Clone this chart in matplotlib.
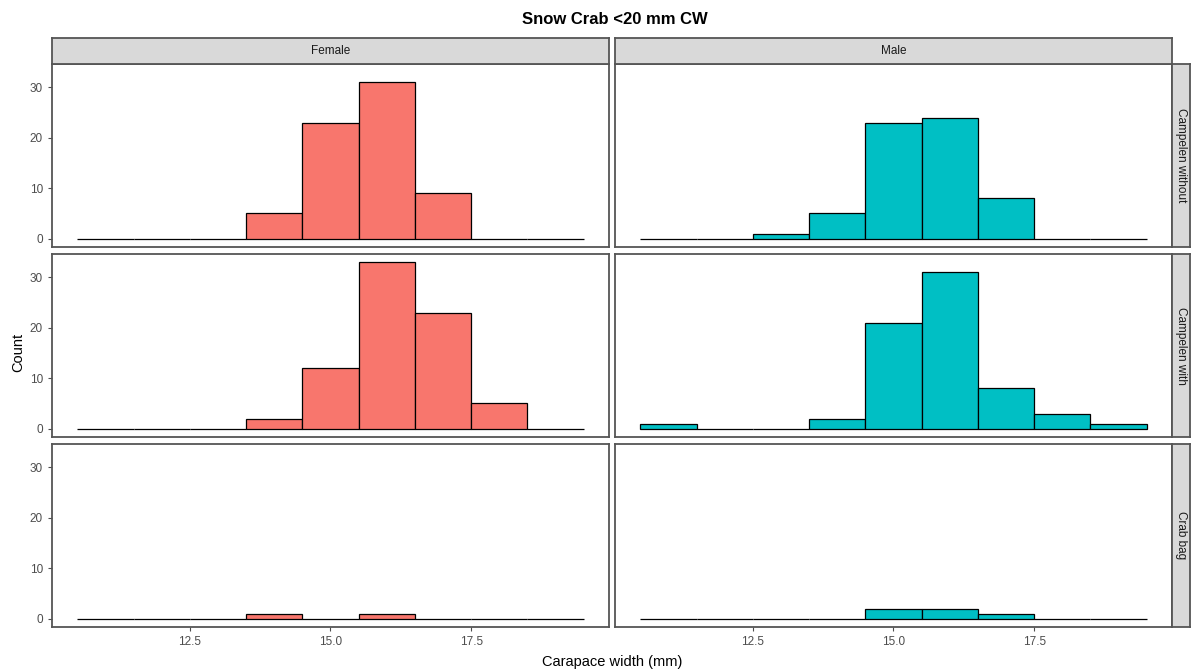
import matplotlib
matplotlib.use("Agg")
import matplotlib.pyplot as plt

plt.rcParams['font.family'] = ['Liberation Sans', 'DejaVu Sans']

# Data
bin_centers = [11, 12, 13, 14, 15, 16, 17, 18, 19]
bin_width = 1.0
sexes = ["Female", "Male"]
gears = ["Campelen without", "Campelen with", "Crab bag"]
female_campelen_without = [0, 0, 0, 5, 23, 31, 9, 0, 0]
male_campelen_without = [0, 0, 1, 5, 23, 24, 8, 0, 0]
female_campelen_with = [0, 0, 0, 2, 12, 33, 23, 5, 0]
male_campelen_with = [1, 0, 0, 2, 21, 31, 8, 3, 1]
female_crab_bag = [0, 0, 0, 1, 0, 1, 0, 0, 0]
male_crab_bag = [0, 0, 0, 0, 2, 2, 1, 0, 0]
counts = {
    ("Campelen without", "Female"): female_campelen_without,
    ("Campelen without", "Male"): male_campelen_without,
    ("Campelen with", "Female"): female_campelen_with,
    ("Campelen with", "Male"): male_campelen_with,
    ("Crab bag", "Female"): female_crab_bag,
    ("Crab bag", "Male"): male_crab_bag,
}
colors = {"Female": "#F8766D", "Male": "#00BFC4"}
x_ticks = [12.5, 15.0, 17.5]
x_tick_labels = ["12.5", "15.0", "17.5"]
y_ticks = [0, 10, 20, 30]

W, H = 1193, 671
fig = plt.figure(figsize=(W / 100, H / 100), dpi=100)

col_x = [(52, 609), (615, 1172)]
row_y = [(64, 247), (254, 437), (444, 627)]

xmin, xmax = 10.5, 19.5
xr = xmax - xmin
xlim = (xmin - 0.05 * xr, xmax + 0.05 * xr)
ymax_all = max(max(v) for v in counts.values())
ylim = (-0.05 * ymax_all, ymax_all * 1.05)

border_col = "#555555"
tick_col = "#4D4D4D"

def fr(x0, y0, x1, y1):
    return [x0 / W, 1 - y1 / H, (x1 - x0) / W, (y1 - y0) / H]

for r, gear in enumerate(gears):
    for c, sex in enumerate(sexes):
        x0, x1 = col_x[c]
        y0, y1 = row_y[r]
        ax = fig.add_axes(fr(x0, y0, x1, y1))
        ax.bar(bin_centers, counts[(gear, sex)], width=bin_width,
               color=colors[sex], edgecolor="black", linewidth=0.9, zorder=2)
        ax.set_xlim(*xlim)
        ax.set_ylim(*ylim)
        for s in ax.spines.values():
            s.set_color(border_col)
            s.set_linewidth(1.3)
        ax.tick_params(colors=tick_col, length=3, width=0.8, labelsize=8.5,
                       labelcolor=tick_col)
        ax.set_xticks(x_ticks)
        ax.set_yticks(y_ticks)
        if r == len(gears) - 1:
            ax.set_xticklabels(x_tick_labels)
        else:
            ax.tick_params(axis='x', bottom=False, labelbottom=False)
        if c == 0:
            ax.set_yticklabels([str(t) for t in y_ticks])
        else:
            ax.tick_params(axis='y', left=False, labelleft=False)

        # top strip
        if r == 0:
            sax = fig.add_axes(fr(x0, 38, x1, y0))
            sax.set_facecolor("#D9D9D9")
            sax.set_xticks([]); sax.set_yticks([])
            for s in sax.spines.values():
                s.set_color(border_col); s.set_linewidth(1.3)
            sax.text(0.5, 0.5, sex, ha="center", va="center", fontsize=8.5,
                     color="#1A1A1A", transform=sax.transAxes)
        # right strip
        if c == 1:
            sax = fig.add_axes(fr(x1, y0, 1190, y1))
            sax.set_facecolor("#D9D9D9")
            sax.set_xticks([]); sax.set_yticks([])
            for s in sax.spines.values():
                s.set_color(border_col); s.set_linewidth(1.3)
            sax.text(0.5, 0.5, gear, ha="center", va="center", fontsize=8.5,
                     color="#1A1A1A", rotation=-90, transform=sax.transAxes)

fig.text(615 / W, 1 - 20 / H, "Snow Crab <20 mm CW", ha="center", va="center",
         fontsize=12, fontweight="bold", color="black")
fig.text(612 / W, 1 - 662 / H, "Carapace width (mm)", ha="center", va="center",
         fontsize=10.5, color="black")
fig.text(18 / W, 1 - 352 / H, "Count", ha="center", va="center",
         fontsize=10.5, rotation=90, color="black")

fig.savefig("out.png", dpi=100, facecolor="white")
